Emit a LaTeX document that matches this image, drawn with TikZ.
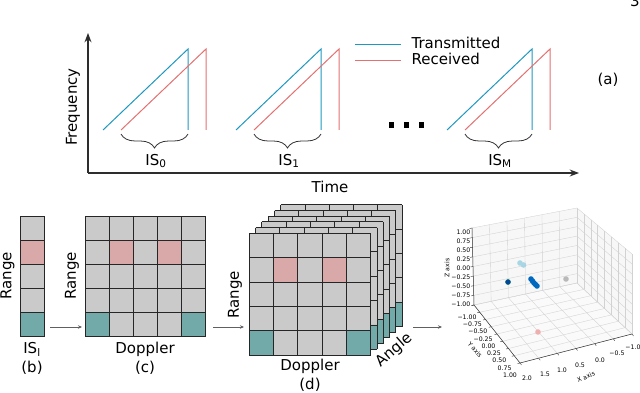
\documentclass[tikz,border=0pt]{standalone}
\usepackage{fontspec}
\setmainfont{DejaVu Sans}
\usepackage{tikz}
\usetikzlibrary{arrows.meta,calc,decorations.pathreplacing}
\definecolor{txblue}{RGB}{30,152,192}
\definecolor{rxred}{RGB}{228,112,112}
\definecolor{cellgray}{RGB}{202,202,202}
\definecolor{cellpink}{RGB}{217,168,168}
\definecolor{cellteal}{RGB}{113,170,168}
\definecolor{axgray}{RGB}{45,45,45}
\newcommand{\rdmap}{%
  \fill[cellgray] (0,0) rectangle (5,5);
  \fill[cellpink] (1,1) rectangle (2,2) (3,1) rectangle (4,2);
  \fill[cellteal] (0,4) rectangle (1,5) (4,4) rectangle (5,5);
  \foreach \i in {0,...,5} \draw[gridln] (\i,0) -- (\i,5) (0,\i) -- (5,\i);
}

\begin{document}
\begin{tikzpicture}[x=1pt,y=-1pt,>=Stealth,
  every node/.style={font=\fontsize{15}{18}\selectfont},
  tick/.style={font=\fontsize{6.2}{7}\selectfont,inner sep=0pt},
  gridln/.style={black!85,line width=0.9pt},
  paneln/.style={gray!35,line width=0.35pt},
  flow/.style={->,gray!75!black,line width=0.8pt,>={Stealth[length=4pt,width=3.5pt]}}]
  \useasboundingbox (0,0) rectangle (640,393);

  % (a) chirp sequence
  \draw[axgray,line width=1.4pt,->] (88,173) -- (88,33);
  \draw[axgray,line width=1.4pt,->] (88,173) -- (579,173);
  \node[rotate=90] (freq) at (73,107) {Frequency};
  \node (time) at (330,187) {Time};
  \foreach \x/\lab [count=\n] in {103/0,236/1,447/M}{
    \draw[txblue,line width=1pt] (\x,130) -- ++(85,-81) -- ++(0,81);
    \draw[rxred,line width=1pt] (\x+18,130) -- ++(85,-81) -- ++(0,81);
    \draw[black!80,line width=0.8pt,decorate,decoration={brace,amplitude=14pt}]
      (\x+85,134) -- (\x+18,134);
    \node (is\n) at (\x+53,161) {IS\textsubscript{\lab}};
  }
  \foreach \x in {391,406,421}
    \fill (\x-2.5,122) rectangle ++(5,6);
  \draw[txblue,line width=1pt] (355,45) -- (401,45);
  \draw[rxred,line width=1pt] (355,61) -- (401,61);
  \node[anchor=west] (legtx) at (408,43) {Transmitted};
  \node[anchor=west] (legrx) at (408,59) {Received};
  \node (capa) at (608,80) {(a)};
  \node[anchor=base] (pgno) at (635,7) {3};

  % (b) range profile
  \begin{scope}[shift={(20,216)},x=24.2pt,y=-24.14pt]
    \fill[cellgray] (0,0) rectangle (1,5);
    \fill[cellpink] (0,1) rectangle (1,2);
    \fill[cellteal] (0,4) rectangle (1,5);
    \foreach \i in {0,...,5} \draw[gridln] (0,\i) -- (1,\i);
    \draw[gridln] (0,0) -- (0,5) (1,0) -- (1,5);
  \end{scope}
  \node[rotate=90] (rngb) at (7.5,276) {Range};
  \node (isl) at (32,349) {IS\textsubscript{l}};
  \node (capb) at (32,368) {(b)};

  % (c) range-doppler map
  \begin{scope}[shift={(85,216)},x=24.14pt,y=-24.14pt]
    \rdmap
  \end{scope}
  \node[rotate=90] (rngc) at (72,276) {Range};
  \node (dopc) at (145,349) {Doppler};
  \node (capc) at (145,368) {(c)};

  % (d) range-doppler-angle cube
  \foreach \k in {5,...,0}{
    \begin{scope}[shift={(249.3+6.3*\k,233.3-5.7*\k)},x=24.28pt,y=-24.34pt]
      \rdmap
    \end{scope}
  }
  \node[rotate=90] (rngd) at (235,295) {Range};
  \node (dopd) at (310,366) {Doppler};
  \node (capd) at (310,385) {(d)};
  \node[rotate=41,inner sep=1pt] (angd) at (394,350) {Angle};

  \coordinate (bout) at (50,327);
  \coordinate (cin) at (82,327);
  \coordinate (cout) at (213,327);
  \coordinate (din) at (244,327);
  \coordinate (dout) at (413,327);
  \coordinate (ein) at (442,327);
  \draw[flow] (bout) -- (cin);
  \draw[flow] (cout) -- (din);
  \draw[flow] (dout) -- (ein);

  % point cloud
  \coordinate (pA) at (472,228);
  \coordinate (pB) at (474,305);
  \coordinate (pC) at (577,208);
  \coordinate (pD) at (577,283);
  \coordinate (pE) at (632,254);
  \coordinate (pR) at (632,334);
  \coordinate (pF) at (520,363);
  \fill[gray!6] (pA) -- (pC) -- (pD) -- (pB) -- cycle;
  \fill[gray!6] (pC) -- (pE) -- (pR) -- (pD) -- cycle;
  \fill[gray!4] (pB) -- (pD) -- (pR) -- (pF) -- cycle;
  \foreach \i [evaluate=\i as \s using \i/6] in {0,...,6}{
    \draw[paneln] ($(pB)!\s!(pD)$) -- ($(pA)!\s!(pC)$);
    \draw[paneln] ($(pB)!\s!(pD)$) -- ($(pF)!\s!(pR)$);
    \draw[black!80,line width=0.4pt] ($(pF)!\s!(pR)$) -- ++(1.5,2);
  }
  \foreach \i [evaluate=\i as \s using \i/8] in {0,...,8}{
    \draw[paneln] ($(pA)!\s!(pB)$) -- ($(pC)!\s!(pD)$) -- ($(pE)!\s!(pR)$);
    \draw[paneln] ($(pC)!\s!(pE)$) -- ($(pD)!\s!(pR)$);
    \draw[paneln] ($(pB)!\s!(pF)$) -- ($(pD)!\s!(pR)$);
    \draw[black!80,line width=0.4pt] ($(pA)!\s!(pB)$) -- ++(-2.5,0.5);
    \draw[black!80,line width=0.4pt] ($(pB)!\s!(pF)$) -- ++(-2.5,0.5);
  }
  \draw[black!80,line width=0.5pt] (pA) -- (pB) -- (pF) -- (pR);
  \foreach \i/\lab in {0/1.00,1/0.75,2/0.50,3/0.25,4/0.00,5/−0.25,6/−0.50,7/−0.75,8/−1.00}
    \node[tick,anchor=east] (zt\i) at (470.5,232+9*\i) {\lab};
  \foreach \xx/\yy/\lab [count=\n] in {467/317/−1.00,472.4/324.3/−0.75,477.8/331.5/−0.50,
      483.1/338.8/−0.25,488.5/346/0.00,493.9/353.3/0.25,499.3/360.5/0.50,
      504.6/367.8/0.75,510/375/1.00}
    \node[tick] (yt\n) at (\xx,\yy) {\lab};
  \foreach \xx/\yy/\lab [count=\n] in {527/378/2.0,545/374/1.5,562/370/1.0,
      580/365/0.5,600/360/0.0,617/353/−0.5,633/347/−1.0}
    \node[tick] (xt\n) at (\xx,\yy) {\lab};
  \node[tick,rotate=90] (zlab) at (447,268) {Z axis};
  \node[tick,rotate=-50] (ylab) at (475,350) {Y axis};
  \node[tick,rotate=24] (xlab) at (586,377) {X axis};
  \fill[txblue!45,opacity=0.85] (520,263) circle (2.8pt) (523.5,265) circle (2.8pt);
  \filldraw[fill=blue!40!teal!90!black,draw=teal!80!black,line width=0.5pt] (508,282) circle (2.5pt);
  \foreach \xx/\yy in {531/279,532.5/281,534/283,535.5/284.5,537/286}
    \fill[blue!45!cyan!75!black] (\xx,\yy) circle (2.8pt);
  \fill[gray!55] (566,279) circle (2.8pt);
  \fill[rxred!60,opacity=0.9] (538,332) circle (2.8pt);
\end{tikzpicture}
\end{document}
